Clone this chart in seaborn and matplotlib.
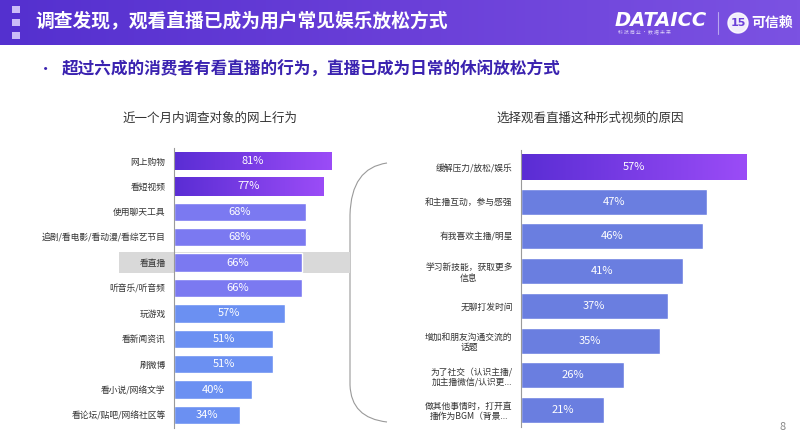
import matplotlib
matplotlib.use('Agg')
import matplotlib.pyplot as plt
import matplotlib.colors as mcolors
from matplotlib.patches import Rectangle, Circle, PathPatch
from matplotlib.path import Path
import matplotlib.transforms as mtransforms
import seaborn as sns
import numpy as np
import pandas as pd

# données
left_labels = ['网上购物', '看短视频', '使用聊天工具', '追剧/看电影/看动漫/看综艺节目', '看直播',
               '听音乐/听音频', '玩游戏', '看新闻资讯', '刷微博', '看小说/网络文学', '看论坛/贴吧/网络社区等']
left_values = [81, 77, 68, 68, 66, 66, 57, 51, 51, 40, 34]

right_labels = ['缓解压力/放松/娱乐', '和主播互动，参与感强', '有我喜欢主播/明星',
                '学习新技能，获取更多\n信息', '无聊打发时间', '增加和朋友沟通交流的\n话题',
                '为了社交（认识主播/\n加主播微信/认识更...', '做其他事情时，打开直\n播作为BGM（背景...']
right_values = [57, 47, 46, 41, 37, 35, 26, 21]

title = '调查发现，观看直播已成为用户常见娱乐放松方式'
subtitle = '超过六成的消费者有看直播的行为，直播已成为日常的休闲放松方式'
left_title = '近一个月内调查对象的网上行为'
right_title = '选择观看直播这种形式视频的原因'

sns.set_theme(style='white')
plt.rcParams['font.family'] = ['Noto Sans CJK SC', 'DejaVu Sans']

W, H = 800, 444
fig = plt.figure(figsize=(W / 100, H / 100), dpi=100)

# fond en pixels
bg = fig.add_axes([0, 0, 1, 1], zorder=0)
bg.set_xlim(0, W)
bg.set_ylim(H, 0)
bg.axis('off')

grad = np.linspace(0, 1, 256).reshape(1, -1)
head_cmap = mcolors.LinearSegmentedColormap.from_list('head', ['#5430cf', '#6a3fd8', '#7b52e2'])
bg.imshow(grad, cmap=head_cmap, extent=[0, W, 45, 0], aspect='auto')
bg.set_xlim(0, W)
bg.set_ylim(H, 0)
for y0 in [6, 19, 32]:
    bg.add_patch(Rectangle((12, y0), 8, 7, color='#cbbcf7', lw=0))
bg.text(35, 22, title, color='white', fontsize=13.5, fontweight='bold', va='center')
bg.text(615, 20, 'DATAICC', color='white', fontsize=14, fontweight='bold',
        style='italic', va='center', family='DejaVu Sans')
bg.text(618, 33, '科 技 商 业 · 数 据 未 来', color='#d8ccf7', fontsize=3.5, va='center')
bg.plot([718, 718], [12, 34], color='#b9a6ef', lw=0.8)
bg.add_patch(Circle((738, 23), 10, color='white', alpha=0.9))
bg.text(738, 23, '15', color='#6a3fd8', fontsize=8, fontweight='bold', ha='center', va='center',
        family='DejaVu Sans')
bg.text(751, 23, '可信赖', color='white', fontsize=10, fontweight='bold', va='center')

bg.text(38, 70, '•', color='#3a22b0', fontsize=11, va='center')
bg.text(62, 70, subtitle, color='#3a22b0', fontsize=12, fontweight='bold', va='center')
bg.text(210, 118, left_title, color='#333333', fontsize=9, ha='center', va='center')
bg.text(590, 118, right_title, color='#333333', fontsize=9, ha='center', va='center')
bg.text(783, 427, '8', color='#888888', fontsize=8, ha='center', va='center')

# accolade
verts = [(387, 163), (351, 168), (350, 215), (350, 385), (351, 418), (387, 422)]
codes = [Path.MOVETO, Path.CURVE3, Path.CURVE3, Path.LINETO, Path.CURVE3, Path.CURVE3]
bg.add_patch(PathPatch(Path(verts, codes), fill=False, ec='#9a9a9a', lw=0.8))

bar_grad = mcolors.LinearSegmentedColormap.from_list('bar', ['#5a2dd4', '#9b4cf7'])


def gradient_bar(ax, patch):
    x0, y0 = patch.get_x(), patch.get_y()
    w, h = patch.get_width(), patch.get_height()
    im = ax.imshow(grad, cmap=bar_grad, extent=[x0, x0 + w, y0 + h, y0],
                   aspect='auto', zorder=patch.get_zorder() + 0.1)
    im.set_clip_path(patch)


def draw_panel(rect, labels, values, colors, xmax, bar_w, n_grad):
    ax = fig.add_axes(rect, zorder=2)
    ax.patch.set_alpha(0)
    df = pd.DataFrame({'label': labels, 'value': values})
    sns.barplot(data=df, x='value', y='label', hue='label', palette=colors,
                legend=False, width=bar_w, saturation=1, ax=ax)
    for i in range(n_grad):
        gradient_bar(ax, ax.patches[i])
    for p, v in zip(ax.patches, values):
        ax.text(p.get_width() / 2, p.get_y() + p.get_height() / 2, f'{v}%',
                color='white', fontsize=8, ha='center', va='center', zorder=5)
    ax.set_xlim(0, xmax)
    ax.set_ylim(len(labels) - 0.5, -0.5)
    ax.set_xlabel('')
    ax.set_ylabel('')
    ax.set_xticks([])
    for s in ['top', 'right', 'bottom']:
        ax.spines[s].set_visible(False)
    ax.spines['left'].set_color('#9a9a9a')
    ax.spines['left'].set_linewidth(0.8)
    ax.tick_params(axis='y', length=0, pad=6, labelsize=6.3, labelcolor='#333333')
    for t in ax.get_yticklabels():
        t.set_multialignment('center')
    return ax


left_colors = ['#5a2dd4', '#5a2dd4'] + ['#7b79f1'] * 4 + ['#6b90f2'] * 5
axl = draw_panel([174 / W, 1 - 427.7 / H, 194 / W, 279.4 / H],
                 left_labels, left_values, left_colors, 100, 0.72, 2)
# surlignage de la ligne « 看直播 »
trans = mtransforms.blended_transform_factory(axl.transAxes, axl.transData)
axl.add_patch(Rectangle((-0.284, 3.6), 1.19, 0.8, transform=trans, color='#d9d9d9',
                        clip_on=False, zorder=0.5, lw=0))

right_colors = ['#5a2dd4'] + ['#6a7ee0'] * 7
draw_panel([521 / W, 1 - 427.3 / H, 237.6 / W, 277.6 / H],
           right_labels, right_values, right_colors, 60, 0.75, 1)

fig.savefig('out.png', dpi=100)
